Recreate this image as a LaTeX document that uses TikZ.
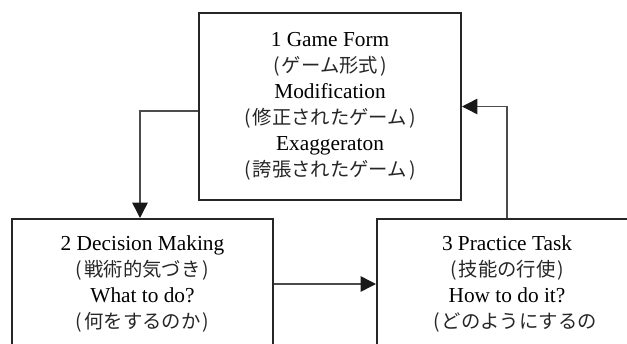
\documentclass[tikz,border=0pt]{standalone}
\usepackage{fontspec}
\setmainfont{Liberation Serif}
\newfontfamily\jpfont{Noto Sans CJK JP}
\newcommand\jpline[1]{{\jpfont\fontsize{14.5}{19.5}\selectfont\color{black!85}#1}}
\newcommand\lp{(\kern1.5pt}
\newcommand\rp{\kern1.5pt)}
\usetikzlibrary{arrows.meta}
\begin{document}
\begin{tikzpicture}[x=0.75pt,y=-0.75pt,
  box/.style={draw=black!85, line width=1.5pt, align=center, inner sep=0pt,
    font=\fontsize{16}{19.5}\selectfont},
  conn/.style={draw=black!70, line width=1.1pt},
  arr/.style={conn, -{Triangle[length=11.5pt,width=11.5pt,fill=black!90,color=black!90]}}]
\useasboundingbox (0,0) rectangle (627,343);
\clip (0,0) rectangle (627,343);
\node[box, minimum width=196.5pt, minimum height=140.25pt] (gf) at (330,106.5)
  {1 Game Form\\\jpline{\lp ゲーム形式\rp}\\Modification\\\jpline{\lp 修正されたゲーム\rp}\\Exaggeraton\\\jpline{\lp 誇張されたゲーム\rp}};
\node[box, minimum width=195.75pt, minimum height=97.5pt] (dm) at (142.5,284)
  {2 Decision Making\\\jpline{\lp 戦術的気づき\rp}\\What to do?\\\jpline{\lp 何をするのか\rp}};
\node[box, minimum width=195pt, minimum height=97.5pt] (pt) at (507,284)
  {3 Practice Task\\\jpline{\lp 技能の行使\rp}\\How to do it?\\\hspace*{12pt}\jpline{\lp どのようにするの}};
\coordinate (c1) at (140,111);
\draw[arr] (c1 -| gf.west) -- (c1) -- (c1 |- dm.north);
\draw[arr] (dm.east) -- (pt.west);
\draw[arr] (pt.north) |- (gf.east);
\end{tikzpicture}
\end{document}
